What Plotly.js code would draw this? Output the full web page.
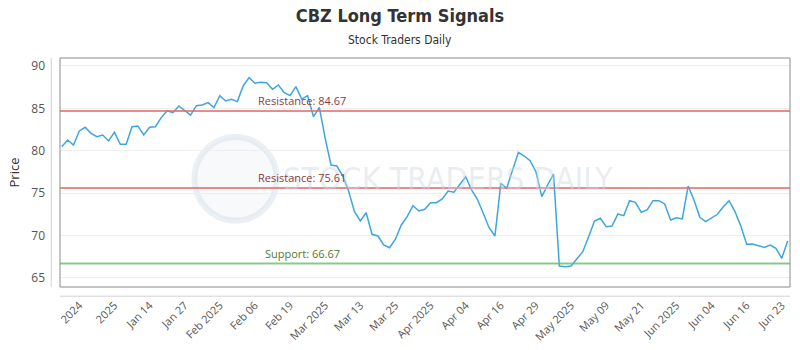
<!DOCTYPE html>
<html>
<head>
<meta charset="utf-8">
<script src="https://cdn.plot.ly/plotly-3.0.1.min.js"></script>
<style>html,body{margin:0;padding:0;background:#fff;}#chart{width:800px;height:350px;}</style>
</head>
<body>
<div id="chart"></div>
<script>
// Closing prices, one per trading session
const prices = [80.47, 81.26, 80.67, 82.33, 82.76, 82.05, 81.65, 81.85, 81.15, 82.17, 80.75, 80.75, 82.83, 82.92, 81.85, 82.76, 82.83, 83.9, 84.72, 84.49, 85.28, 84.69, 84.2, 85.31, 85.4, 85.67, 85.08, 86.5, 85.87, 86.07, 85.79, 87.67,
  88.62, 87.96, 88.07, 88.03, 87.25, 87.76, 86.85, 86.5, 87.56, 86.07, 86.5, 84.01, 85.12, 81.46, 78.31, 78.19, 77.01, 75.24, 72.8, 71.7, 72.68, 70.13, 69.93, 68.87, 68.55, 69.57, 71.23, 72.21, 73.51, 72.88, 73.08, 73.86,
  73.86, 74.3, 75.24, 75.09, 76.03, 76.93, 75.36, 74.26, 72.61, 70.91, 69.93, 76.15, 75.56, 77.72, 79.81, 79.37, 78.82, 77.52, 74.57, 75.95, 77.25, 66.39, 66.31, 66.39, 67.3, 68.08, 69.85, 71.7, 72.02, 71.03, 71.11,
  72.53, 72.33, 74.1, 73.91, 72.73, 73.0, 74.1, 74.1, 73.71, 71.82, 72.09, 71.94, 75.83, 74.18, 72.13, 71.62, 72.09, 72.49, 73.39, 74.1, 72.8, 71.11, 68.95, 68.98, 68.78, 68.59, 68.87, 68.48, 67.3, 69.34];

const tickLabels = ["2024", "2025", "Jan 14", "Jan 27", "Feb 2025", "Feb 06", "Feb 19", "Mar 2025", "Mar 13", "Mar 25",
  "Apr 2025", "Apr 04", "Apr 16", "Apr 29", "May 2025", "May 09", "May 21", "Jun 2025", "Jun 04", "Jun 16", "Jun 23"];
const tickIndex = [3, 9, 15, 21, 27, 33, 39, 45, 51, 57, 63, 69, 75, 81, 87, 93, 99, 105, 111, 117, 123];

const levelNames = ["Resistance", "Resistance", "Support"];
const levelValues = [84.67, 75.61, 66.67];
const levelColors = ["rgba(225,110,110,0.8)", "rgba(225,110,110,0.8)", "rgba(110,185,110,0.8)"];
const levelTextColors = ["#8a3b3b", "#8a3b3b", "#4f7a35"];
const levelLabelX = [0.268, 0.268, 0.278];

const session = prices.map((_, i) => i);

const trace = {
  x: session, y: prices, type: 'scatter', mode: 'lines',
  line: {color: '#3ea6df', width: 1.5}, hoverinfo: 'y', showlegend: false
};

const shapes = [];
const annotations = [];

// watermark
shapes.push({type: 'circle', xref: 'paper', yref: 'paper', x0: 0.184, x1: 0.297, y0: 0.29, y1: 0.655,
  line: {color: 'rgba(205,218,230,0.4)', width: 6}, fillcolor: 'rgba(218,228,238,0.22)', layer: 'below'});
annotations.push({xref: 'paper', yref: 'paper', x: 0.532, y: 0.47, xanchor: 'center', yanchor: 'middle',
  text: 'STOCK TRADERS DAILY', showarrow: false,
  font: {family: 'Liberation Sans Narrow, DejaVu Sans Condensed, sans-serif', size: 32, color: 'rgba(205,215,225,0.45)'}});

levelValues.forEach((v, i) => {
  shapes.push({type: 'line', xref: 'paper', yref: 'y', x0: 0, x1: 1, y0: v, y1: v,
    line: {color: levelColors[i], width: 2}});
  annotations.push({xref: 'paper', yref: 'y', x: levelLabelX[i], y: v, xanchor: 'left', yanchor: 'bottom', yshift: 1,
    text: levelNames[i] + ': ' + v.toFixed(2), showarrow: false,
    font: {family: 'Open Sans, sans-serif', size: 11, color: levelTextColors[i]}});
});

// plot frame and offset axis lines
shapes.push({type: 'rect', xref: 'paper', yref: 'paper', x0: 0, x1: 1, y0: 0, y1: 1,
  line: {color: '#8a8a8a', width: 1}});
shapes.push({type: 'line', xref: 'paper', yref: 'paper', x0: -0.012, x1: -0.012, y0: 0, y1: 1,
  line: {color: '#d0d0d0', width: 1}});
shapes.push({type: 'line', xref: 'paper', yref: 'paper', x0: 0, x1: 1, y0: -0.04, y1: -0.04,
  line: {color: '#d0d0d0', width: 1}});

annotations.push({xref: 'paper', yref: 'paper', x: 0.466, y: 1.079, xanchor: 'center', yanchor: 'middle',
  text: 'Stock Traders Daily', showarrow: false,
  font: {family: 'Liberation Sans Narrow, DejaVu Sans Condensed, sans-serif', size: 12, color: '#333'}});

const layout = {
  width: 800, height: 350,
  margin: {l: 60, r: 10, t: 58, b: 63},
  paper_bgcolor: '#fff', plot_bgcolor: '#fff',
  title: {text: '<b>CBZ Long Term Signals</b>', x: 0.5, xanchor: 'center', y: 0.955, yanchor: 'middle', yref: 'container',
    font: {family: 'Liberation Sans Narrow, DejaVu Sans Condensed, sans-serif', size: 18, color: '#333'}},
  xaxis: {
    range: [-0.3, 124.4], tickmode: 'array', tickvals: tickIndex, ticktext: tickLabels,
    tickangle: -45, showgrid: false, zeroline: false, showline: false, ticks: '',
    ticklabelstandoff: 9,
    tickfont: {family: 'Open Sans, sans-serif', size: 11, color: '#555'}
  },
  yaxis: {
    range: [63.91, 90.94], tickvals: [65, 70, 75, 80, 85, 90], showgrid: true, gridcolor: '#eeeeee',
    zeroline: false, showline: false, ticks: '', ticklabelstandoff: 14,
    tickfont: {family: 'Open Sans, sans-serif', size: 12, color: '#555'},
    title: {text: 'Price', standoff: 8, font: {family: 'Open Sans, sans-serif', size: 13, color: '#333'}}
  },
  shapes: shapes, annotations: annotations
};

Plotly.newPlot('chart', [trace], layout, {displayModeBar: false, staticPlot: true});
</script>
</body>
</html>
